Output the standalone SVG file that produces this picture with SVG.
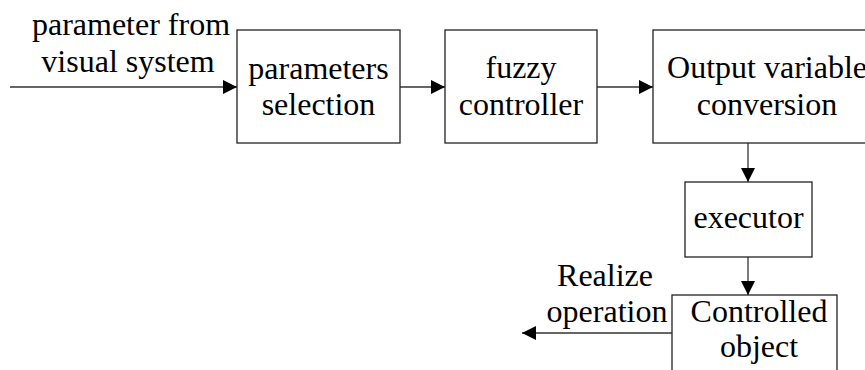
<svg xmlns="http://www.w3.org/2000/svg" width="865" height="370" viewBox="0 0 865 370">
<style>
.t{font-size:32px;fill:#000}
.c{text-anchor:middle}
.box{fill:#fff;stroke:#222;stroke-width:1.3}
.ln{stroke:#333;stroke-width:1.3;fill:none;marker-end:url(#ah)}
</style>
<defs>
<marker id="ah" markerUnits="userSpaceOnUse" markerWidth="15" markerHeight="14" refX="14" refY="7" orient="auto">
<path d="M0,0 L14,7 L0,14 Z" fill="#000"/>
</marker>
</defs>
<rect width="865" height="370" fill="#fff"/>
<g id="connectors">
<line class="ln" x1="10" y1="87" x2="237" y2="87"/>
<line class="ln" x1="400" y1="87" x2="445" y2="87"/>
<line class="ln" x1="597" y1="87" x2="653" y2="87"/>
<line class="ln" x1="748" y1="143" x2="748" y2="182"/>
<line class="ln" x1="748" y1="257" x2="748" y2="295"/>
<line class="ln" x1="672" y1="333" x2="522" y2="333"/>
</g>
<g font-family="Liberation Serif, Tinos, DejaVu Serif, serif" class="t">
<g id="input-label">
<text class="c" x="131" y="35">parameter from</text>
<text class="c" x="128" y="72">visual system</text>
</g>
<g id="parameters-selection">
<rect class="box" x="237" y="30" width="163" height="113"/>
<text class="c" x="318.5" y="79">parameters</text>
<text class="c" x="318.5" y="115">selection</text>
</g>
<g id="fuzzy-controller">
<rect class="box" x="445" y="30" width="152" height="113"/>
<text class="c" x="521" y="78">fuzzy</text>
<text class="c" x="521" y="115">controller</text>
</g>
<g id="output-variable-conversion">
<rect class="box" x="653" y="30" width="230" height="113"/>
<text class="c" x="767" y="78">Output variable</text>
<text class="c" x="767" y="115">conversion</text>
</g>
<g id="executor">
<rect class="box" x="685" y="182" width="127" height="75"/>
<text class="c" x="748.5" y="228">executor</text>
</g>
<g id="controlled-object">
<rect class="box" x="672" y="295" width="165" height="90"/>
<text class="c" x="759" y="322">Controlled</text>
<text class="c" x="759" y="357">object</text>
</g>
<g id="output-label">
<text class="c" x="605" y="286">Realize</text>
<text class="c" x="607" y="322">operation</text>
</g>
</g>
</svg>
